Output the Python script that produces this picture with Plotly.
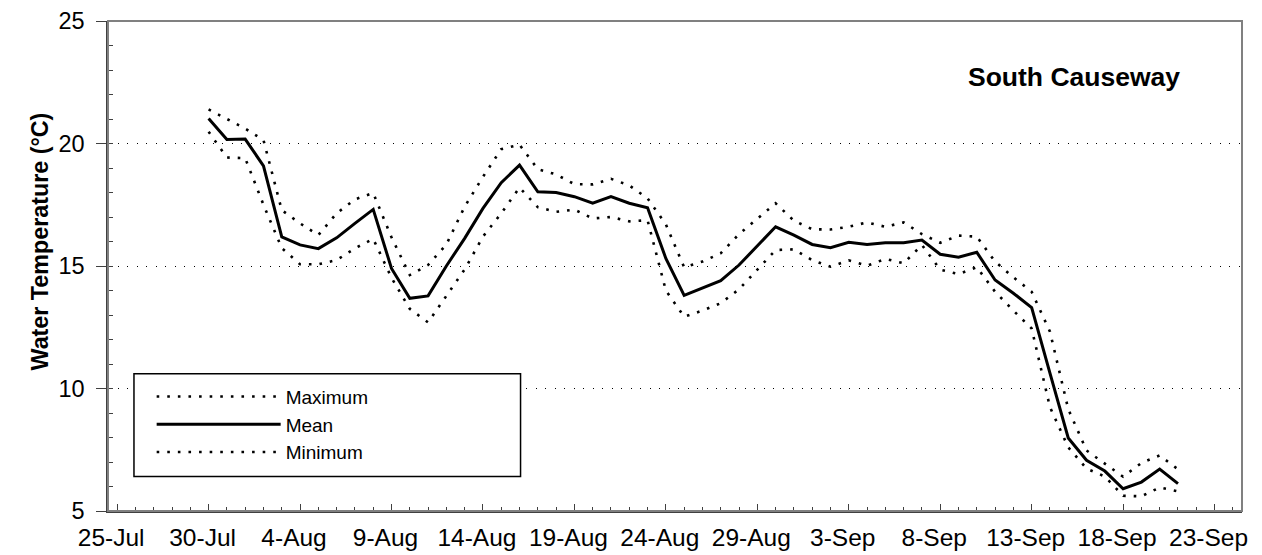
import plotly.graph_objects as go
import pandas as pd

# ---- data ----
dates = pd.date_range("2003-07-30", "2003-09-21", freq="D")

max_temp = [21.39, 20.99,
            20.61, 20.14, 17.28, 16.74, 16.26, 17.15, 17.72, 17.98, 16.17, 14.63,
            15.04, 15.88, 17.42, 18.64, 19.77, 19.95, 18.95, 18.74, 18.34, 18.33,
            18.56, 18.29, 17.76, 16.70, 14.95, 15.18, 15.52, 16.30, 16.94, 17.56,
            16.85,
            16.50, 16.49, 16.60, 16.78, 16.60, 16.78, 16.30, 15.95, 16.24, 16.20,
            15.18, 14.54, 13.95, 12.32, 9.16, 7.47, 6.92, 6.40, 6.96, 7.27, 6.70]

mean_temp = [21.02, 20.16,
             20.18, 19.09, 16.19, 15.86, 15.71, 16.15, 16.74, 17.31, 14.90, 13.68,
             13.78, 15.00, 16.13, 17.35, 18.40, 19.12, 18.03, 18.00, 17.83, 17.56,
             17.83, 17.56, 17.38, 15.31, 13.80, 14.09, 14.40, 15.04, 15.82, 16.60,
             16.26,
             15.88, 15.75, 15.97, 15.88, 15.95, 15.95, 16.06, 15.48, 15.36, 15.56,
             14.43, 13.89, 13.30, 10.63, 7.98, 7.07, 6.63, 5.91, 6.18, 6.71, 6.12]

min_temp = [20.48, 19.43,
            19.40, 17.50, 15.73, 15.07, 15.07, 15.24, 15.72, 16.11, 14.52, 13.25,
            12.70, 13.80, 14.86, 16.20, 17.15, 18.20, 17.40, 17.21, 17.30, 16.94,
            17.00, 16.82, 16.87, 14.00, 12.93, 13.18, 13.48, 14.05, 14.84, 15.65,
            15.68,
            15.24, 14.97, 15.23, 15.01, 15.29, 15.11, 15.86, 14.85, 14.67, 14.95,
            13.95, 13.18, 12.45, 9.24, 7.60, 6.73, 6.41, 5.62, 5.60, 5.96, 5.80]

tick_dates = pd.date_range("2003-07-25", "2003-09-23", freq="5D")
tick_labels = ["25-Jul", "30-Jul", "4-Aug", "9-Aug", "14-Aug", "19-Aug", "24-Aug",
               "29-Aug", "3-Sep", "8-Sep", "13-Sep", "18-Sep", "23-Sep"]
y_ticks = [5, 10, 15, 20, 25]

FONT = "Liberation Sans, Arial, Helvetica, sans-serif"
AX = "#404040"

fig = go.Figure()
dot = "2.6px,8px"
fig.add_trace(go.Scatter(x=dates, y=max_temp, name="Maximum", mode="lines",
                         line=dict(color="black", width=2.6, dash=dot),
                         legendgroup="a"))
fig.add_trace(go.Scatter(x=dates, y=mean_temp, name="Mean", mode="lines",
                         line=dict(color="black", width=3),
                         legendgroup="b"))
fig.add_trace(go.Scatter(x=dates, y=min_temp, name="Minimum", mode="lines",
                         line=dict(color="black", width=2.6, dash=dot),
                         legendgroup="c"))

fig.update_layout(
    width=1262, height=555,
    autosize=False,
    margin=dict(l=108, r=20, t=21, b=44, autoexpand=False),
    paper_bgcolor="white", plot_bgcolor="white",
    font=dict(family=FONT, color="black"),
    showlegend=True,
    legend=dict(
        x=0.0385, y=0.272, xanchor="left", yanchor="top",
        bgcolor="rgba(0,0,0,0)", borderwidth=0,
        font=dict(family=FONT, size=19, color="black"),
        itemwidth=124, tracegroupgap=0, traceorder="normal",
    ),
    xaxis=dict(
        type="date", automargin=False,
        range=["2003-07-24 12:00", "2003-09-24 12:00"],
        tickvals=tick_dates, ticktext=tick_labels,
        ticks="inside", ticklen=7, tickwidth=1, tickcolor=AX,
        showline=True, linecolor=AX, linewidth=1.5,
        showgrid=False, zeroline=False,
        tickfont=dict(family=FONT, size=24.5, color="black"),
        ticklabelshift=-6, ticklabelstandoff=4,
        minor=dict(dtick=86400000, tick0="2003-07-25", ticks="inside",
                   ticklen=4, tickcolor=AX, showgrid=False),
    ),
    yaxis=dict(
        range=[5, 25], tickvals=y_ticks, automargin=False,
        ticks="outside", ticklen=10, tickwidth=1, tickcolor=AX,
        showline=True, linecolor=AX, linewidth=1.5,
        showgrid=True, gridcolor="black", gridwidth=1, griddash="1px,8.5px",
        zeroline=False,
        tickfont=dict(family=FONT, size=23.5, color="black"),
        ticklabelstandoff=7,
        minor=dict(dtick=1, ticks="inside", ticklen=5, tickcolor=AX,
                   showgrid=False),
    ),
    shapes=[
        dict(type="rect", xref="paper", yref="paper", x0=0, x1=1, y0=0, y1=1,
             line=dict(color="#808080", width=2), layer="above"),
        dict(type="rect", xref="paper", yref="paper",
             x0=0.0229, x1=0.3638, y0=0.0705, y1=0.2799,
             line=dict(color="black", width=1.5), fillcolor="white", layer="above"),
    ],
    annotations=[
        dict(text="<b>South Causeway</b>", xref="paper", yref="paper",
             x=0.8515, y=0.885, xanchor="center", yanchor="middle",
             showarrow=False, font=dict(family=FONT, size=26.5, color="black")),
        dict(text="<b>Water Temperature (°C)</b>", xref="paper", yref="paper",
             x=-0.0602, y=0.5495, xanchor="center", yanchor="middle",
             textangle=-90, showarrow=False,
             font=dict(family=FONT, size=23.3, color="black")),
    ],
)

fig.write_html("out.html", config={"displayModeBar": False},
               post_script="document.body.style.margin='0';document.body.style.padding='0';")
